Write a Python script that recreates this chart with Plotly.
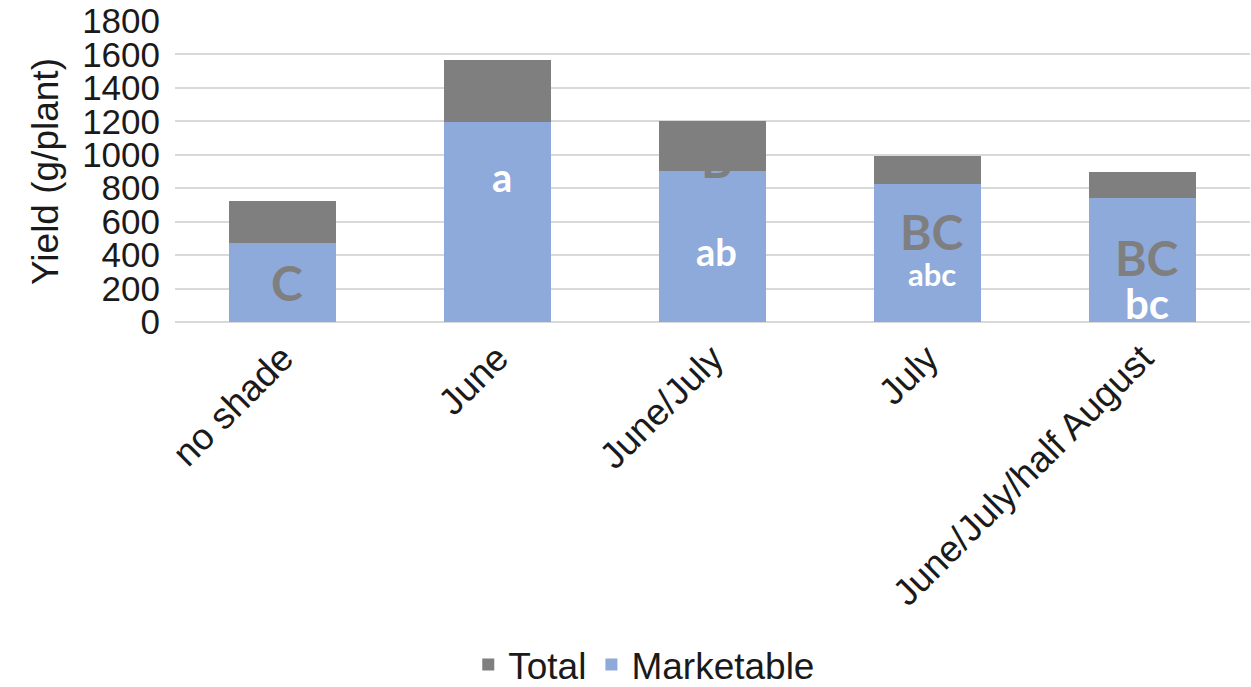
import plotly.graph_objects as go

categories = ["no shade", "June", "June/July", "July", "June/July/half August"]
total = [723, 1567, 1202, 993, 897]
marketable = [472, 1196, 903, 825, 742]

upper_letters = ["C", "", "B", "BC", "BC"]
upper_y = [235, None, 970, 540, 385]
lower_letters = ["", "a", "ab", "abc", "bc"]
lower_y = [None, 870, 425, 290, 115]
upper_size = [48, 0, 48, 48, 48]
lower_size = [0, 40, 38, 31, 42]

BLUE = "#8eaadb"
GRAY = "#7f7f7f"

diff = [t - m for t, m in zip(total, marketable)]

fig = go.Figure()
fig.add_trace(go.Bar(x=categories, y=marketable, name="Marketable",
                     marker=dict(color=BLUE, line=dict(width=0)), width=0.5))
fig.add_trace(go.Bar(x=categories, y=diff, name="Total",
                     marker=dict(color=GRAY, line=dict(width=0)), width=0.5))

for i, c in enumerate(categories):
    if upper_letters[i]:
        fig.add_annotation(x=c, y=upper_y[i], xref="x", yref="y", text="<b>%s</b>" % upper_letters[i],
                           showarrow=False, font=dict(family="Lato", size=upper_size[i], color=GRAY),
                           xshift=4)
    if lower_letters[i]:
        fig.add_annotation(x=c, y=lower_y[i], xref="x", yref="y", text="<b>%s</b>" % lower_letters[i],
                           showarrow=False, font=dict(family="Lato", size=lower_size[i], color="white"),
                           xshift=4)

fig.update_layout(
    barmode="stack",
    width=1251, height=687,
    margin=dict(l=175, r=1, t=21, b=365),
    plot_bgcolor="white", paper_bgcolor="white",
    font=dict(family="Liberation Sans", color="#1a1a1a"),
    bargap=0.5,
    showlegend=True,
    legend=dict(orientation="h", xref="container", yref="container", x=0.515, y=0.032,
                xanchor="center", yanchor="middle", traceorder="reversed",
                font=dict(size=37, family="Liberation Sans"), itemwidth=30),
    xaxis=dict(tickangle=-45, tickfont=dict(size=37), showgrid=False, showline=False,
               ticks="", ticklen=0, ticklabelstandoff=6),
    yaxis=dict(range=[0, 1800], dtick=200, tickfont=dict(size=35), showgrid=True,
               gridcolor="#d9d9d9", gridwidth=1.5, zeroline=True, zerolinecolor="#d9d9d9",
               zerolinewidth=1.5, ticks="", ticklabelstandoff=14,
               title=dict(text="Yield (g/plant)", font=dict(size=37), standoff=12)),
)

fig.write_html("out.html")
